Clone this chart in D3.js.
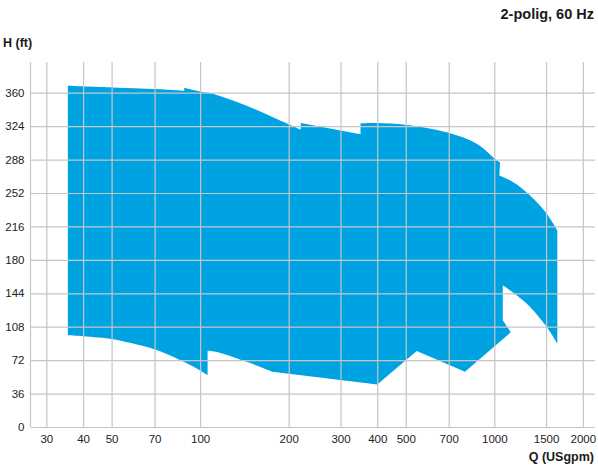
<!DOCTYPE html>
<html>
<head>
<meta charset="utf-8">
<script src="https://cdn.jsdelivr.net/npm/d3@7"></script>
<style>
  html, body { margin: 0; padding: 0; background: #fff; }
  svg { display: block; font-family: "Liberation Sans", Arial, Helvetica, sans-serif; }
</style>
</head>
<body>
<svg id="chart" width="598" height="466"></svg>
<script>
// ---- Data ----
const qTicks = [30, 40, 50, 70, 100, 200, 300, 400, 500, 700, 1000, 1500, 2000];
const hTicks = [0, 36, 72, 108, 144, 180, 216, 252, 288, 324, 360];

// Outline of the operating range (Q in USgpm, H in ft), traced clockwise
const outlineQ = [35.5, 50.7, 70.3, 88.3, 88.3, 100, 108, 144, 187, 219.5, 220, 351, 351, 399, 504, 690, 872, 1006, 1046, 1040, 1161, 1323, 1508, 1638, 1638, 1508, 1323, 1192, 1069, 1069, 1138, 795, 545, 400, 176, 144, 117, 106, 106, 97.4, 83.3, 70.3, 57.7, 50.7, 40.1, 35.5];
const outlineH = [367.5, 365.7, 364, 362.1, 365.4, 361.4, 359.7, 346, 330, 320.2, 327.4, 315.2, 327, 327.4, 325.3, 317.3, 304.9, 288.7, 285.1, 270.8, 263.6, 249.3, 229.6, 211.7, 89.9, 107.8, 129.3, 141.8, 152.6, 115, 102.1, 59.4, 81.9, 45.9, 59.4, 70.2, 79.8, 82, 55.9, 63.1, 73.8, 83.5, 90.6, 94.6, 97.8, 98.9];
// Index ranges of the outline that are smooth curves (the rest are straight edges)
const curvedRuns = [[0, 3], [4, 9], [12, 18], [19, 23], [24, 28], [34, 37], [38, 45]];

const titleText = "2-polig, 60 Hz";
const yTitle = "H (ft)";
const xTitle = "Q (USgpm)";

// ---- Layout ----
const mLeft = 30.5, mRight = 595, mBottom = 427, mTop = 62;
const svg = d3.select("#chart");

const x = d3.scaleLog().domain([26.5, 2200]).range([mLeft, mRight]);
const y = d3.scaleLinear().domain([0, 360]).range([mBottom, 92.7]);

// Shape: build from runs, curved or straight
const pts = outlineQ.map((q, i) => [q, outlineH[i]]);
const curved = d3.line().x(d => x(d[0])).y(d => y(d[1])).curve(d3.curveCatmullRom.alpha(0.5));
const straight = d3.line().x(d => x(d[0])).y(d => y(d[1]));
const runs = [];
let idx = 0;
curvedRuns.forEach(([a, b]) => {
  if (a > idx) runs.push({ s: idx, e: a, c: false });
  runs.push({ s: a, e: b, c: true });
  idx = b;
});
if (idx < pts.length - 1) runs.push({ s: idx, e: pts.length - 1, c: false });
let dStr = "";
runs.forEach((r, i) => {
  const seg = pts.slice(r.s, r.e + 1);
  let s = (r.c ? curved : straight)(seg);
  if (i > 0) s = "L" + s.slice(1);
  dStr += s;
});
dStr += "Z";

svg.append("path")
  .attr("d", dStr)
  .attr("fill", "#00a3e2")
  .attr("stroke", "none");

const gridColor = "#c6c6c6";

// X axis with vertical gridlines
const xAxis = svg.append("g")
  .attr("transform", `translate(0,${mBottom})`)
  .call(d3.axisBottom(x).tickValues(qTicks).tickFormat(d3.format("d"))
    .tickSize(-(mBottom - mTop)).tickPadding(8));
xAxis.select(".domain").remove();
xAxis.selectAll("line").attr("stroke", gridColor).attr("stroke-width", 1.2);
xAxis.selectAll("text").attr("fill", "#222").style("font-size", "11.5px");

// Y axis with horizontal gridlines
const yAxis = svg.append("g")
  .attr("transform", `translate(${mLeft},0)`)
  .call(d3.axisLeft(y).tickValues(hTicks).tickFormat(d3.format("d"))
    .tickSize(-(mRight - mLeft)).tickPadding(6));
yAxis.select(".domain").remove();
yAxis.selectAll("line").attr("stroke", gridColor).attr("stroke-width", 1.2);
yAxis.selectAll("text").attr("fill", "#222").style("font-size", "11.5px");

// Left axis line
svg.append("line")
  .attr("x1", mLeft).attr("x2", mLeft).attr("y1", mTop).attr("y2", mBottom)
  .attr("stroke", gridColor).attr("stroke-width", 1.2);

// Titles
svg.append("text").attr("x", 594).attr("y", 19).attr("text-anchor", "end")
  .attr("font-weight", "bold").attr("font-size", "14.5px").attr("fill", "#1a1a1a").text(titleText);
svg.append("text").attr("x", 3).attr("y", 47).attr("text-anchor", "start")
  .attr("font-weight", "bold").attr("font-size", "12.5px").attr("fill", "#1a1a1a").text(yTitle);
svg.append("text").attr("x", 594).attr("y", 461).attr("text-anchor", "end")
  .attr("font-weight", "bold").attr("font-size", "12.5px").attr("fill", "#1a1a1a").text(xTitle);
</script>
</body>
</html>
